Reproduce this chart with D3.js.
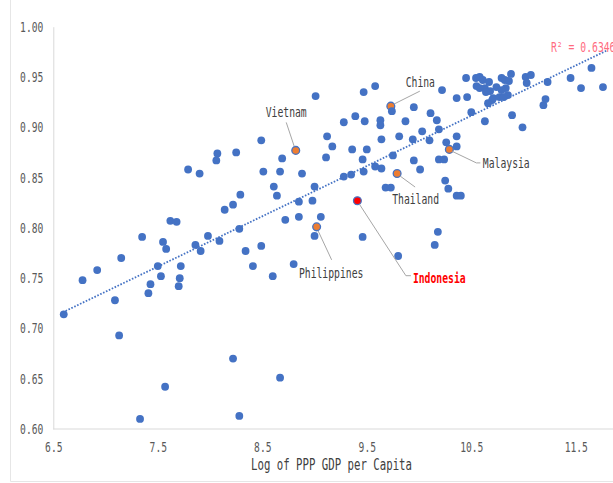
<!DOCTYPE html>
<html lang="en">
<head>
<meta charset="UTF-8">
<title>Log of PPP GDP per Capita</title>
<script src="https://d3js.org/d3.v7.min.js"></script>
<style>
  body { margin: 0; background: #fff; }
  svg { display: block; }
  text { font-family: "DejaVu Sans Mono", "Liberation Mono", monospace; }
</style>
</head>
<body>
<svg width="613" height="483"></svg>
<script>
// values
const xVals = [
  6.60, 6.78, 6.92, 7.09, 7.13, 7.15, 7.35, 7.33, 7.41, 7.43, 7.50, 7.53, 7.55, 7.58, 7.57,
  7.62, 7.68, 7.70, 7.71, 7.72, 7.79, 7.90, 7.86, 7.91, 7.98, 8.07, 8.06, 8.09, 8.14, 8.22,
  8.22, 8.25, 8.28, 8.29, 8.28, 8.34, 8.41, 8.49, 8.51, 8.49, 8.60, 8.61, 8.64, 8.67, 8.69,
  8.67, 8.72, 8.80, 8.82, 8.85, 8.85, 8.88, 8.98, 9.00, 9.01, 9.00, 9.02, 9.06, 9.11, 9.12,
  9.17, 9.28, 9.28, 9.35, 9.36, 9.39, 9.41, 9.47, 9.48, 9.46, 9.47, 9.50, 9.46, 9.58, 9.58,
  9.63, 9.63, 9.64, 9.64, 9.68, 9.73, 9.73, 9.74, 9.75, 9.79, 9.80, 9.81, 9.87, 9.95, 9.94,
  9.95, 10.01, 10.03, 10.10, 10.11, 10.17, 10.19, 10.19, 10.24, 10.22, 10.25, 10.28, 10.26, 10.29, 10.36,
  10.40, 10.36, 10.36, 10.15, 10.18, 10.36, 10.45, 10.46, 10.50,
  10.545, 10.58, 10.55, 10.58, 10.61, 10.63, 10.67, 10.68, 10.64, 10.70, 10.66, 10.71, 10.74, 10.77, 10.79,
  10.82, 10.83, 10.88, 10.86, 10.85, 10.81, 10.79, 10.63,
  10.89, 10.99, 11.02, 11.07, 11.03, 11.19, 11.21, 11.23, 11.45, 11.55, 11.65, 11.76
];
const yVals = [
  0.714, 0.748, 0.758, 0.728, 0.693, 0.770, 0.791, 0.610, 0.735, 0.744, 0.762, 0.752, 0.786, 0.779, 0.642,
  0.807, 0.806, 0.742, 0.750, 0.762, 0.858, 0.854, 0.783, 0.777, 0.792, 0.874, 0.867, 0.787, 0.818, 0.823,
  0.670, 0.875, 0.799, 0.833, 0.613, 0.777, 0.762, 0.887, 0.856, 0.782, 0.752, 0.841, 0.832, 0.856, 0.869,
  0.651, 0.808, 0.764, 0.877, 0.826, 0.811, 0.854, 0.827, 0.841, 0.931, 0.792, 0.801, 0.811, 0.870, 0.891,
  0.881, 0.851, 0.905, 0.853, 0.878, 0.911, 0.827, 0.935, 0.906, 0.868, 0.856, 0.878, 0.791, 0.941, 0.861,
  0.907, 0.902, 0.888, 0.859, 0.840, 0.840, 0.921, 0.916, 0.872, 0.854, 0.772, 0.891, 0.906, 0.920, 0.888,
  0.867, 0.858, 0.896, 0.887, 0.914, 0.907, 0.898, 0.868, 0.868, 0.937, 0.847, 0.839, 0.885, 0.878, 0.832,
  0.832, 0.891, 0.881, 0.783, 0.796, 0.929, 0.949, 0.930, 0.915,
  0.949, 0.950, 0.941, 0.939, 0.947, 0.939, 0.945, 0.936, 0.935, 0.927, 0.924, 0.929, 0.940, 0.930, 0.949,
  0.947, 0.939, 0.953, 0.946, 0.932, 0.930, 0.937, 0.906,
  0.912, 0.900, 0.950, 0.952, 0.944, 0.922, 0.928, 0.945, 0.949, 0.939, 0.959, 0.940
];

// labelled countries (index into the arrays above)
const labelNames = ["Vietnam", "Philippines", "Indonesia", "China", "Thailand", "Malaysia"];
const labelIndex = [48, 56, 66, 81, 84, 103];

const xTicks = [6.5, 7.5, 8.5, 9.5, 10.5, 11.5];
const yTicks = [0.60, 0.65, 0.70, 0.75, 0.80, 0.85, 0.90, 0.95, 1.00];
const rSquared = "R² = 0.6346";
const xTitle = "Log of PPP GDP per Capita";

// trendline as drawn in the picture (ends of the dotted line)
const trendX = [6.59, 11.8];
const trendY = [0.716, 0.9765];

// label placement, pixels relative to the point
const labelLayout = {
  Vietnam:     { tx: -9.5, ty: -33, anchor: "middle", line: [[-1.5, -4], [-9.5, -28]] },
  Philippines: { tx: 14.5, ty: 51.5, anchor: "middle", line: [[1.5, 4], [15, 33]] },
  Indonesia:   { tx: 55.5, ty: 82.5, anchor: "start", line: [[2, 3.5], [48.5, 75], [53.5, 75]] },
  China:       { tx: 29.5, ty: -19.5, anchor: "middle", line: [[3, -2], [29, -15]] },
  Thailand:    { tx: 18.5, ty: 30.5, anchor: "middle", line: [[3, 2.5], [18, 13.5]] },
  Malaysia:    { tx: 33.5, ty: 19, anchor: "start", line: [[3, 2], [27, 13.5], [31, 13.5]] }
};

const blue = "#4472C4", orange = "#ED7D31", red = "#FF0000";

const svg = d3.select("svg");

const x = d3.scaleLinear().domain([6.5, 11.5]).range([53.3, 575.8]);
const y = d3.scaleLinear().domain([0.6, 1.0]).range([429, 26.7]);

// squeeze the mono font so it looks like the narrow original
function squeeze(sel, perChar) {
  sel.attr("textLength", function() { return this.textContent.length * perChar; })
     .attr("lengthAdjust", "spacingAndGlyphs");
}

// outer frame
svg.append("path")
  .attr("d", "M10.5,0 V481.5 H613")
  .attr("fill", "none")
  .attr("stroke", "#e6e6e6");

// axes
const yAxis = svg.append("g")
  .attr("transform", "translate(" + x.range()[0] + ",0)")
  .call(d3.axisLeft(y).tickValues(yTicks).tickFormat(d3.format(".2f")).tickSize(0).tickPadding(10));
yAxis.select(".domain").attr("stroke", "#d9d9d9");
yAxis.selectAll("text")
  .attr("fill", "#595959")
  .style("font-size", "14px")
  .call(squeeze, 5.8);

const xAxis = svg.append("g")
  .attr("transform", "translate(0," + y(0.6) + ")")
  .call(d3.axisBottom(x).tickValues(xTicks).tickFormat(d3.format(".1f")).tickSize(0).tickPadding(13));
xAxis.select(".domain").remove();
xAxis.append("line")
  .attr("x1", x.range()[0]).attr("x2", 613)
  .attr("stroke", "#d9d9d9");
xAxis.selectAll("text")
  .attr("fill", "#595959")
  .style("font-size", "14px")
  .call(squeeze, 5.8);

svg.append("text")
  .attr("x", 331.5).attr("y", 470)
  .attr("text-anchor", "middle")
  .attr("fill", "#404040")
  .style("font-size", "15px")
  .text(xTitle)
  .call(squeeze, 6.44);

// points
const points = xVals.map((v, i) => ({ x: v, y: yVals[i], name: labelNames[labelIndex.indexOf(i)] }));

svg.append("g")
  .selectAll("circle")
  .data(points)
  .join("circle")
  .attr("cx", d => x(d.x))
  .attr("cy", d => y(d.y))
  .attr("r", 3.9)
  .attr("fill", d => d.name === "Indonesia" ? red : d.name ? orange : blue)
  .attr("stroke", d => d.name ? blue : "none")
  .attr("stroke-width", 1.3);

// dotted trend line
svg.append("line")
  .attr("x1", x(trendX[0])).attr("y1", y(trendY[0]))
  .attr("x2", x(trendX[1])).attr("y2", y(trendY[1]))
  .attr("stroke", blue)
  .attr("stroke-width", 1.8)
  .attr("stroke-dasharray", "1.6 1.6");

svg.append("text")
  .attr("x", 551).attr("y", 52)
  .attr("fill", "#FF6B7F")
  .style("font-size", "14px")
  .text(rSquared)
  .call(squeeze, 5.86);

// callouts
const labelled = points.filter(d => d.name);
const callout = svg.append("g");
labelled.forEach(d => {
  const L = labelLayout[d.name];
  const px = x(d.x), py = y(d.y);
  callout.append("path")
    .attr("d", d3.line()(L.line.map(p => [px + p[0], py + p[1]])))
    .attr("fill", "none")
    .attr("stroke", "#a6a6a6")
    .attr("stroke-width", 1);
  callout.append("text")
    .attr("x", px + L.tx).attr("y", py + L.ty)
    .attr("text-anchor", L.anchor)
    .attr("fill", d.name === "Indonesia" ? red : "#404040")
    .style("font-size", "14px")
    .style("font-weight", d.name === "Indonesia" ? "bold" : "normal")
    .text(d.name)
    .call(squeeze, 5.86);
});
</script>
</body>
</html>
